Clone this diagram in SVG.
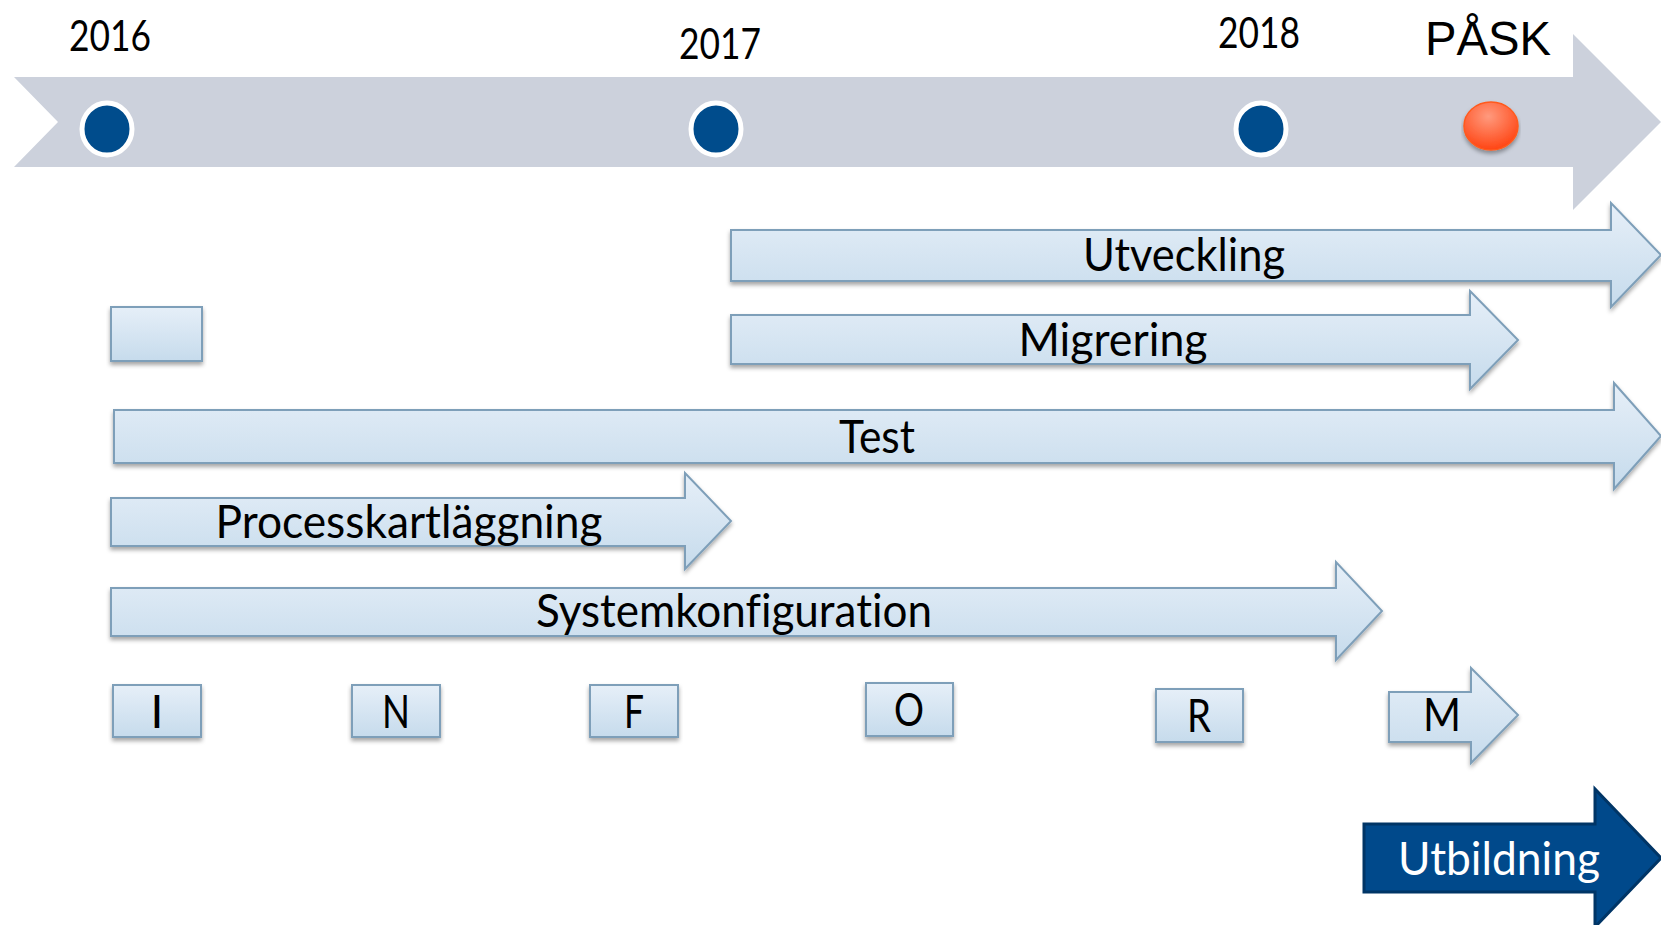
<svg xmlns="http://www.w3.org/2000/svg" width="1661" height="925" viewBox="0 0 1661 925">
<defs>
<linearGradient id="lb" x1="0" y1="0" x2="0" y2="1">
<stop offset="0" stop-color="#E6EFF8"/>
<stop offset="1" stop-color="#C6DBEC"/>
</linearGradient>
<radialGradient id="red" cx="0.45" cy="0.3" r="0.75">
<stop offset="0" stop-color="#FF9A7E"/>
<stop offset="1" stop-color="#FF3F0C"/>
</radialGradient>
<filter id="sh" x="-5%" y="-20%" width="110%" height="150%">
<feDropShadow dx="0" dy="3" stdDeviation="2" flood-color="#000" flood-opacity="0.35"/>
</filter>
</defs>
<style>
text{font-variant-ligatures:none}
.la{fill:url(#lb);stroke:#7E9FB9;stroke-width:2;filter:url(#sh)}
.t{font-family:Lato,"Noto Sans",sans-serif;fill:#000;text-anchor:middle}
.yr{font-family:Lato,"Noto Sans",sans-serif;font-size:42px;fill:#000;text-anchor:middle}
.dot{fill:#004C8C;stroke:#fff;stroke-width:5}
.lt{font-family:Lato,"Noto Sans",sans-serif;font-size:46px;fill:#000;text-anchor:middle}
</style>
<rect width="1661" height="925" fill="#fff"/>

<g id="timeline">
<path d="M14,77 L1573,77 L1573,34 L1661,122 L1573,210 L1573,167 L14,167 L58,122 Z" fill="#CCD1DC"/>
</g>
<g id="y2016"><ellipse class="dot" cx="107" cy="129" rx="25" ry="26"/><text class="yr" x="110" y="51" textLength="82" lengthAdjust="spacingAndGlyphs">2016</text></g>
<g id="y2017"><ellipse class="dot" cx="716" cy="129" rx="25" ry="26"/><text class="yr" x="720" y="59" textLength="82" lengthAdjust="spacingAndGlyphs">2017</text></g>
<g id="y2018"><ellipse class="dot" cx="1261" cy="129" rx="25" ry="26"/><text class="yr" x="1259" y="48" textLength="82" lengthAdjust="spacingAndGlyphs">2018</text></g>
<g id="pask"><ellipse cx="1491" cy="126" rx="27" ry="24" fill="url(#red)" stroke="#FF5A1E" stroke-width="1.5" filter="url(#sh)"/><text x="1488" y="55" font-family="'Liberation Sans',Arial,sans-serif" font-size="48" text-anchor="middle" textLength="126" lengthAdjust="spacingAndGlyphs">PÅSK</text></g>

<g id="utveckling"><path class="la" d="M731,230 H1611 V203 L1661,255 L1611,307 V281 H731 Z"/><text class="t" font-size="46" x="1184" y="271" textLength="202" lengthAdjust="spacingAndGlyphs">Utveckling</text></g>
<g id="migrering"><path class="la" d="M731,315 H1470 V291 L1518,340 L1470,389 V364 H731 Z"/><text class="t" font-size="46" x="1113" y="356" textLength="189" lengthAdjust="spacingAndGlyphs">Migrering</text></g>
<g id="box"><rect class="la" x="111" y="307" width="91" height="54"/></g>
<g id="test"><path class="la" d="M114,410 H1614 V383 L1661,436 L1614,489 V463 H114 Z"/><text class="t" font-size="46" x="877" y="453" textLength="76" lengthAdjust="spacingAndGlyphs">Test</text></g>
<g id="process"><path class="la" d="M111,498 H685 V473 L731,521 L685,569 V546 H111 Z"/><text class="t" font-size="46" x="409" y="538" textLength="387" lengthAdjust="spacingAndGlyphs">Processkartläggning</text></g>
<g id="system"><path class="la" d="M111,588 H1336 V562 L1382,611 L1336,660 V636 H111 Z"/><text class="t" font-size="46" x="734" y="627" textLength="396" lengthAdjust="spacingAndGlyphs">Systemkonfiguration</text></g>

<g id="I"><rect class="la" x="113" y="685" width="88" height="52"/><text class="lt" x="157" y="728">I</text></g>
<g id="N"><rect class="la" x="352" y="685" width="88" height="52"/><text class="lt" x="396" y="728" textLength="28" lengthAdjust="spacingAndGlyphs">N</text></g>
<g id="F"><rect class="la" x="590" y="685" width="88" height="52"/><text class="lt" x="634" y="728" textLength="20" lengthAdjust="spacingAndGlyphs">F</text></g>
<g id="O"><rect class="la" x="866" y="683" width="87" height="53"/><text class="lt" x="909" y="726" textLength="30" lengthAdjust="spacingAndGlyphs">O</text></g>
<g id="R"><rect class="la" x="1156" y="689" width="87" height="53"/><text class="lt" x="1199" y="732" textLength="24" lengthAdjust="spacingAndGlyphs">R</text></g>
<g id="M"><path class="la" d="M1389,692 H1471 V668 L1518,715 L1471,763 V742 H1389 Z"/><text class="lt" x="1442" y="731" textLength="38" lengthAdjust="spacingAndGlyphs">M</text></g>

<g id="utbildning"><path d="M1364,824 H1595 V789 L1661,858 L1595,927 V892 H1364 Z" fill="#00498B" stroke="#003566" stroke-width="3"/><text x="1499" y="875" font-family="Lato,'Noto Sans',sans-serif" font-size="46" fill="#fff" text-anchor="middle" textLength="202" lengthAdjust="spacingAndGlyphs">Utbildning</text></g>
</svg>
